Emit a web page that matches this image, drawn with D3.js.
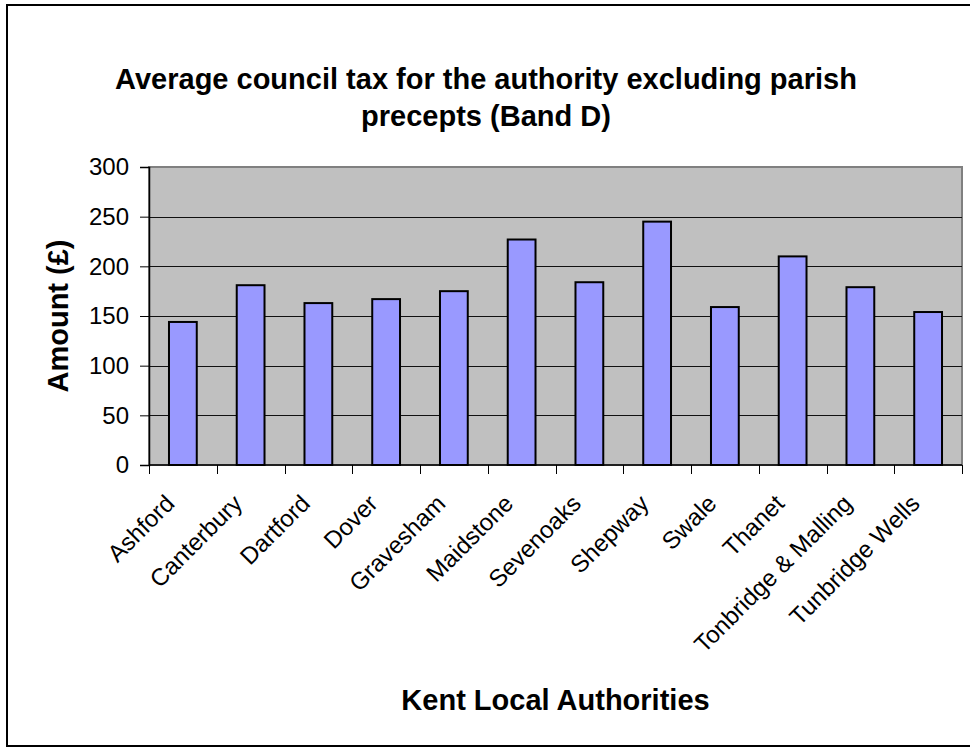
<!DOCTYPE html>
<html>
<head>
<meta charset="utf-8">
<script src="https://cdn.jsdelivr.net/npm/d3@7"></script>
<style>
  html, body { margin: 0; padding: 0; background: #fff; }
  svg { display: block; font-family: Arial, "Liberation Sans", sans-serif; }
</style>
</head>
<body>
<svg id="chart" width="970" height="747"></svg>
<script>
const categories = ["Ashford", "Canterbury", "Dartford", "Dover", "Gravesham", "Maidstone",
  "Sevenoaks", "Shepway", "Swale", "Thanet", "Tonbridge & Malling", "Tunbridge Wells"];
const values = [144, 181, 163, 167, 175, 227, 184, 245, 159, 210, 179, 154];
const yTicks = [0, 50, 100, 150, 200, 250, 300];
const titleLines = ["Average council tax for the authority excluding parish", "precepts (Band D)"];
const xTitle = "Kent Local Authorities";
const yTitle = "Amount (£)";

const svg = d3.select("#chart");
const W = 970, H = 747;
const plot = { left: 149, right: 962, top: 167, bottom: 465 };

// outer frame
svg.append("rect").attr("x", 7).attr("y", 5).attr("width", W + 10).attr("height", 741)
  .attr("fill", "#fff").attr("stroke", "#000").attr("stroke-width", 2);

const x = d3.scaleBand().domain(categories).range([plot.left, plot.right]).paddingInner(0.59).paddingOuter(0.295);
const xb = d3.scaleBand().domain(categories).range([plot.left, plot.right]);
const y = d3.scaleLinear().domain([0, 300]).range([plot.bottom, plot.top]);

// plot background
svg.append("rect").attr("x", plot.left).attr("y", plot.top)
  .attr("width", plot.right - plot.left).attr("height", plot.bottom - plot.top)
  .attr("fill", "#c0c0c0").attr("stroke", "#808080").attr("stroke-width", 2);

// gridlines
svg.append("g").selectAll("line").data(yTicks.filter(d => d > 0 && d < 300)).join("line")
  .attr("x1", plot.left).attr("x2", plot.right)
  .attr("y1", d => Math.round(y(d)) + 0.5).attr("y2", d => Math.round(y(d)) + 0.5)
  .attr("stroke", "#111").attr("stroke-width", 1);

// bars
svg.append("g").selectAll("rect").data(values).join("rect")
  .attr("x", (d, i) => x(categories[i]))
  .attr("y", d => y(d))
  .attr("width", x.bandwidth())
  .attr("height", d => y(0) - y(d))
  .attr("fill", "#9999ff").attr("stroke", "#000").attr("stroke-width", 2);

// y axis
const yAxis = d3.axisLeft(y).tickValues(yTicks).tickSize(9).tickPadding(11);
const gy = svg.append("g").attr("transform", `translate(${plot.left},0)`).call(yAxis);
gy.select(".domain").attr("stroke", "#000").attr("stroke-width", 1.5);
gy.selectAll(".tick line").attr("stroke", "#000");
gy.selectAll("text").attr("font-size", 24).attr("font-family", "Arial, 'Liberation Sans', sans-serif").attr("fill", "#000");

// x axis (ticks at band boundaries)
const gx = svg.append("g");
gx.append("line").attr("x1", plot.left).attr("x2", plot.right)
  .attr("y1", plot.bottom).attr("y2", plot.bottom).attr("stroke", "#000").attr("stroke-width", 1.5);
const bounds = categories.map(c => xb(c)).concat([plot.right]);
gx.selectAll("line.tk").data(bounds).join("line").attr("class", "tk")
  .attr("x1", d => Math.round(d) + 0.5).attr("x2", d => Math.round(d) + 0.5)
  .attr("y1", plot.bottom).attr("y2", plot.bottom + 9).attr("stroke", "#000");
gx.selectAll("text").data(categories).join("text")
  .attr("transform", d => `translate(${xb(d) + xb.bandwidth() / 2 - 7},${plot.bottom + 40}) rotate(-45)`)
  .attr("text-anchor", "end")
  .attr("font-size", 24).attr("fill", "#000")
  .text(d => d);

// titles
svg.append("text").attr("x", 486).attr("text-anchor", "middle")
  .attr("font-size", 29).attr("font-weight", "bold").attr("fill", "#000")
  .selectAll("tspan").data(titleLines).join("tspan")
  .attr("x", 486).attr("y", (d, i) => 89 + i * 37).text(d => d);

svg.append("text").attr("x", (plot.left + plot.right) / 2).attr("y", 710)
  .attr("text-anchor", "middle").attr("font-size", 29).attr("font-weight", "bold").attr("fill", "#000")
  .text(xTitle);

svg.append("text").attr("transform", `translate(68,${(plot.top + plot.bottom) / 2}) rotate(-90)`)
  .attr("text-anchor", "middle").attr("font-size", 29).attr("font-weight", "bold").attr("fill", "#000")
  .text(yTitle);
</script>
</body>
</html>
